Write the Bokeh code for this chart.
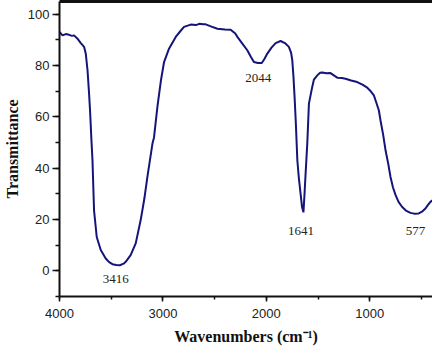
from bokeh.plotting import figure
from bokeh.models import Range1d, LinearAxis, SingleIntervalTicker, FixedTicker, Label, ColumnDataSource
from bokeh.embed import file_html
from bokeh.resources import INLINE

# FTIR spectrum (wavenumber in cm^-1, transmittance in %)
wavenumber = [4000, 3971, 3940, 3907, 3880, 3859, 3826, 3794, 3762, 3746, 3729, 3714, 3704,
              3690, 3681, 3666, 3640, 3601, 3553, 3520, 3488, 3450, 3416, 3380, 3360, 3312,
              3263, 3215, 3180, 3150, 3101, 3086, 3053, 3020, 2989, 2941, 2876, 2830, 2796,
              2731, 2680, 2650, 2610, 2586, 2530, 2473, 2400, 2345, 2300, 2280, 2230, 2184,
              2150, 2120, 2080, 2044, 2020, 1990, 1950, 1910, 1862, 1820, 1782, 1760, 1749,
              1738, 1727, 1715, 1700, 1685, 1669, 1655, 1641, 1632, 1620, 1604, 1588, 1556,
              1540, 1507, 1480, 1459, 1420, 1379, 1340, 1314, 1270, 1234, 1180, 1121, 1070,
              1024, 990, 960, 944, 912, 896, 870, 847, 820, 799, 775, 750, 720, 686, 650,
              606, 570, 526, 490, 461, 440, 413, 393]
transmittance = [93.1, 91.8, 92.3, 92.0, 91.6, 91.8, 90.5, 88.8, 87.3, 84.7, 78.2, 69.1, 62.0,
                 50.0, 43.1, 23.6, 13.2, 8.1, 4.8, 3.4, 2.6, 2.3, 2.2, 2.8, 3.5, 6.1,
                 10.7, 19.8, 28.0, 36.6, 49.6, 52.0, 64.0, 74.0, 81.4, 86.6, 91.2, 93.5, 95.1,
                 96.0, 95.8, 96.3, 96.1, 96.1, 95.2, 94.4, 94.1, 94.0, 92.5, 91.2, 88.5, 86.0,
                 83.5, 81.4, 81.0, 81.0, 82.5, 84.7, 87.0, 88.8, 89.6, 88.8, 87.3, 85.0, 82.1,
                 76.0, 68.0, 58.0, 43.1, 36.0, 30.2, 25.0, 22.8, 29.0, 38.0, 49.6, 65.2, 71.7,
                 74.5, 76.2, 77.2, 77.3, 77.0, 77.1, 76.0, 75.3, 75.2, 74.9, 74.2, 73.6, 72.6,
                 71.4, 70.0, 68.4, 66.5, 62.6, 58.7, 53.0, 47.0, 41.5, 36.6, 32.5, 29.5, 26.8, 24.9, 23.5,
                 22.6, 22.3, 22.4, 23.2, 24.3, 25.5, 26.9, 27.5]

# Peak annotations
peak_labels = ["3416", "2044", "1641", "577"]
peak_label_x = [3456, 2079, 1664, 557]
peak_label_y = [-3.3, 75.0, 15.5, 15.5]

x_ticks_major = 1000
y_ticks_major = 20

p = figure(width=432, height=347, output_backend="svg", toolbar_location=None,
           x_range=Range1d(4000, 393), y_range=Range1d(-10, 105),
           min_border_left=59, min_border_right=0, min_border_top=1, min_border_bottom=51,
           x_axis_label="Wavenumbers (cm\u207b\u00b9)", y_axis_label="Transmittance")

p.background_fill_color = "white"
p.border_fill_color = "white"
p.outline_line_color = None
p.xgrid.visible = False
p.ygrid.visible = False

src = ColumnDataSource(dict(x=wavenumber, y=transmittance))
p.line("x", "y", source=src, line_color="#14147a", line_width=2)

for t, xx, yy in zip(peak_labels, peak_label_x, peak_label_y):
    p.add_layout(Label(x=xx, y=yy, text=t, text_align="center", text_baseline="middle",
                       text_font="Liberation Serif", text_font_size="13px", text_color="#222222"))

p.xaxis.ticker = SingleIntervalTicker(interval=x_ticks_major, num_minor_ticks=2)
p.yaxis.ticker = SingleIntervalTicker(interval=y_ticks_major, num_minor_ticks=2)

for ax in (p.xaxis[0], p.yaxis[0]):
    ax.axis_line_width = 2
    ax.axis_line_color = "#111111"
    ax.major_tick_line_width = 1.5
    ax.minor_tick_line_width = 1.5
    ax.major_tick_line_color = "#111111"
    ax.minor_tick_line_color = "#111111"
    ax.major_tick_in = 0
    ax.minor_tick_in = 0
    ax.major_label_text_font = "Liberation Sans"
    ax.major_label_text_font_size = "13px"
    ax.major_label_text_color = "#222222"
    ax.axis_label_text_font = "Liberation Serif"
    ax.axis_label_text_font_style = "bold"
    ax.axis_label_text_font_size = "16px"
    ax.axis_label_text_color = "#111111"

p.xaxis.major_tick_out = 5
p.xaxis.minor_tick_out = 3
p.xaxis.major_label_standoff = 7
p.xaxis.axis_label_standoff = 7
p.yaxis.major_tick_out = 7
p.yaxis.minor_tick_out = 4
p.yaxis.major_label_standoff = 3
p.yaxis.axis_label_standoff = 4

top = LinearAxis(ticker=FixedTicker(ticks=[]))
top.axis_line_width = 3
top.axis_line_color = "#111111"
top.major_tick_line_color = None
top.minor_tick_line_color = None
top.major_tick_out = 0
top.minor_tick_out = 0
top.major_label_standoff = 0
p.add_layout(top, "above")

open("out.html", "w").write(file_html(p, INLINE))
